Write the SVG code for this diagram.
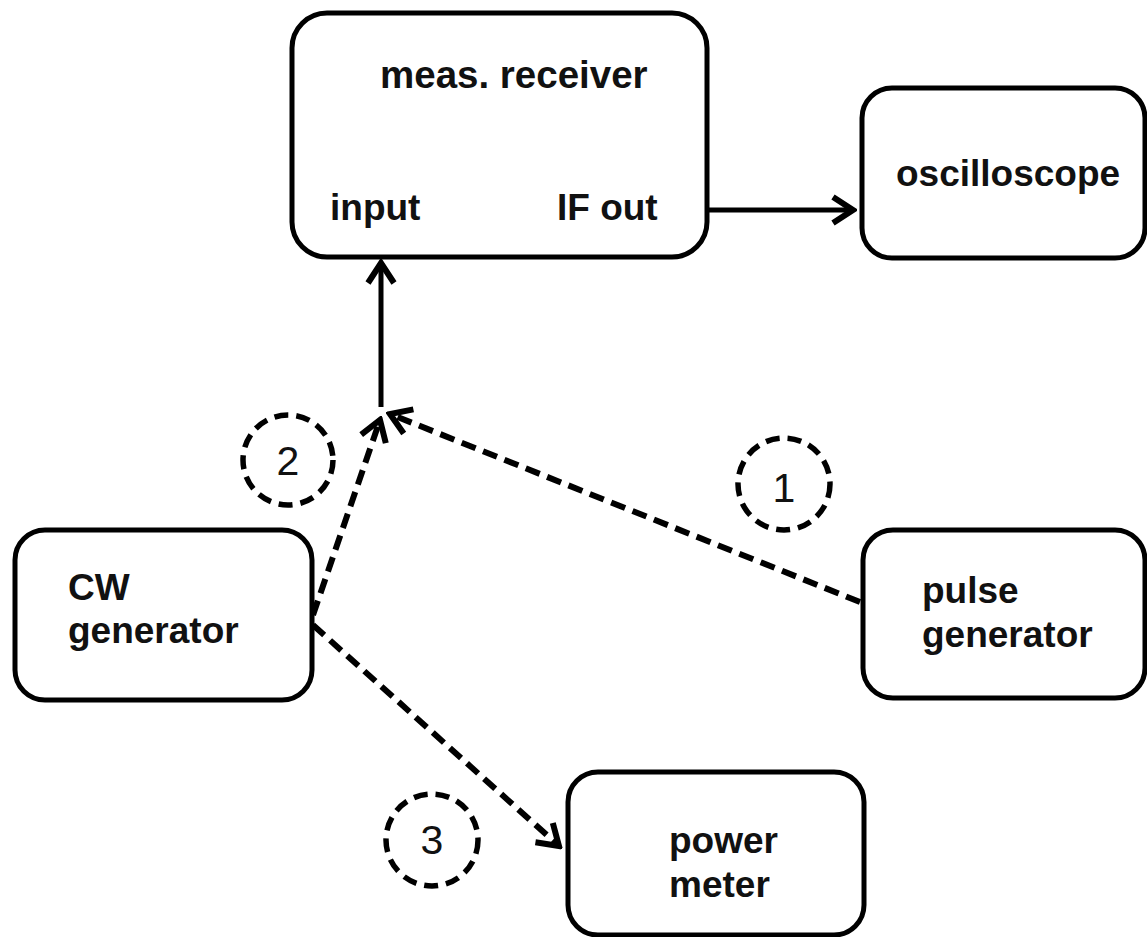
<svg xmlns="http://www.w3.org/2000/svg" width="1147" height="937" viewBox="0 0 1147 937">
<defs>
<style>
.box{fill:#fff;stroke:#000;stroke-width:5}
.lbl{font-family:"Liberation Sans",Arial,sans-serif;font-weight:bold;font-size:37px;fill:#111}
.num{font-family:"Liberation Sans",Arial,sans-serif;font-size:41px;fill:#111;text-anchor:middle}
.solid{fill:none;stroke:#000;stroke-width:5}
.dash{fill:none;stroke:#000;stroke-width:6;stroke-dasharray:15 8}
.ring{fill:none;stroke:#000;stroke-width:5.5;stroke-dasharray:14 8}
</style>
<marker id="arr" markerUnits="userSpaceOnUse" viewBox="-26 -16 30 32" refX="0" refY="0" markerWidth="30" markerHeight="32" orient="auto">
<path d="M-20,-13 L0,0 L-20,13" fill="none" stroke="#000" stroke-width="6" stroke-linejoin="miter"/>
</marker>
</defs>
<rect width="1147" height="937" fill="#fff"/>
<g id="connectors">
<line class="solid" x1="707" y1="210" x2="853" y2="210" marker-end="url(#arr)"/>
<line class="solid" x1="381" y1="407" x2="381" y2="263" marker-end="url(#arr)"/>
<line class="dash" x1="860" y1="602" x2="390" y2="414" marker-end="url(#arr)"/>
<line class="dash" x1="313" y1="615" x2="380" y2="420" marker-end="url(#arr)"/>
<line class="dash" x1="313" y1="625" x2="559" y2="846" marker-end="url(#arr)"/>
</g>
<g id="meas-receiver">
<rect class="box" x="292" y="13" width="415" height="244" rx="35"/>
<text class="lbl" x="380" y="88" style="font-size:38.5px">meas. receiver</text>
<text class="lbl" x="330" y="220">input</text>
<text class="lbl" x="557" y="220">IF out</text>
</g>
<g id="oscilloscope">
<rect class="box" x="862" y="88" width="283" height="170" rx="30"/>
<text class="lbl" x="896" y="186">oscilloscope</text>
</g>
<g id="cw-generator">
<rect class="box" x="15" y="530" width="297" height="170" rx="30"/>
<text class="lbl" x="68" y="600">CW</text>
<text class="lbl" x="68" y="643">generator</text>
</g>
<g id="pulse-generator">
<rect class="box" x="863" y="530" width="282" height="168" rx="30"/>
<text class="lbl" x="922" y="603">pulse</text>
<text class="lbl" x="922" y="647">generator</text>
</g>
<g id="power-meter">
<rect class="box" x="568" y="772" width="296" height="163" rx="30"/>
<text class="lbl" x="669" y="853">power</text>
<text class="lbl" x="669" y="897">meter</text>
</g>
<g id="marker-1">
<circle class="ring" cx="784" cy="484" r="46"/>
<text class="num" x="784" y="502">1</text>
</g>
<g id="marker-2">
<circle class="ring" cx="288" cy="460" r="45"/>
<text class="num" x="288" y="475">2</text>
</g>
<g id="marker-3">
<circle class="ring" cx="432" cy="840" r="46"/>
<text class="num" x="432" y="854">3</text>
</g>
</svg>
